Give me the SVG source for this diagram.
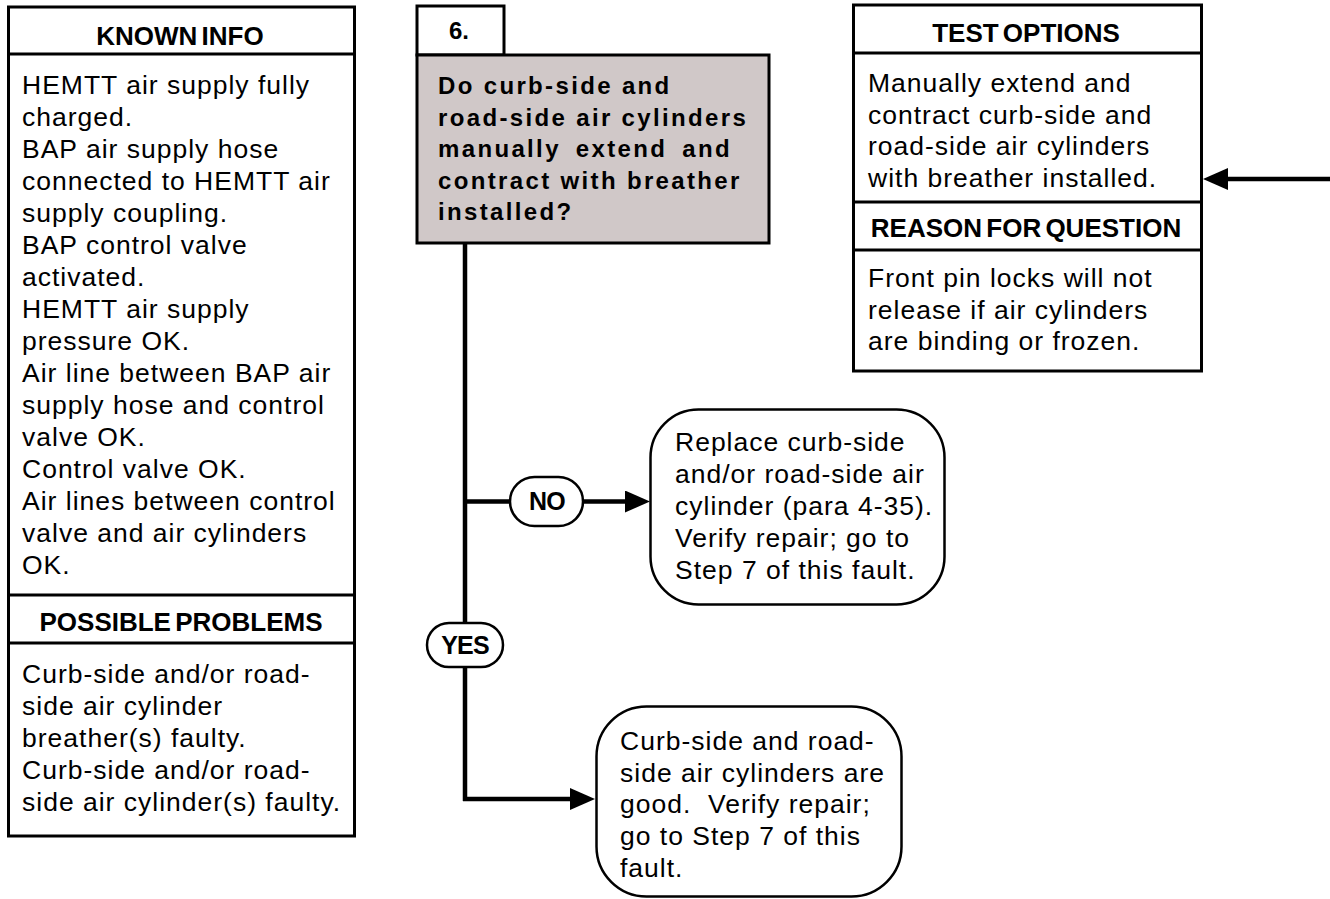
<svg xmlns="http://www.w3.org/2000/svg" width="1330" height="899" viewBox="0 0 1330 899">
<style>
.box{fill:#fff;stroke:#000;stroke-width:3}
.sep{stroke:#000;stroke-width:3}
.rbox{fill:#fff;stroke:#000;stroke-width:2.5}
.t{font-family:"Liberation Sans",Arial,Helvetica,sans-serif;fill:#000}
.hdr{font-weight:bold;font-size:26px;letter-spacing:0;word-spacing:-3px;text-anchor:middle}
.body{font-size:26.5px;letter-spacing:1px}
.q{font-weight:bold;font-size:24px;letter-spacing:2.35px}
.lbl{font-weight:bold;font-size:25px;letter-spacing:-0.8px;text-anchor:middle}
.conn{stroke:#000;stroke-width:4.5;fill:none}
</style>
<defs>
<marker id="arr" viewBox="0 0 25 22" refX="0" refY="11" markerWidth="25" markerHeight="22" markerUnits="userSpaceOnUse" orient="auto">
<path d="M0,0 L25,11 L0,22 Z" fill="#000"/>
</marker>
</defs>
<rect width="1330" height="899" fill="#fff"/>

<g id="connectors">
<line class="conn" x1="465" y1="243" x2="465" y2="801"/>
<line class="conn" x1="465" y1="501.5" x2="511" y2="501.5"/>
<line class="conn" x1="582" y1="501.5" x2="625" y2="501.5" marker-end="url(#arr)"/>
<line class="conn" x1="463" y1="799" x2="570" y2="799" marker-end="url(#arr)"/>
<line class="conn" x1="1330" y1="179" x2="1228" y2="179" marker-end="url(#arr)"/>
</g>

<g id="known-info">
<rect class="box" x="8.5" y="7" width="346" height="829"/>
<line class="sep" x1="8.5" y1="54" x2="354.5" y2="54"/>
<text class="t hdr" x="180" y="45">KNOWN INFO</text>
<text class="t body" x="22" y="94">
<tspan x="22" dy="0">HEMTT air supply fully</tspan>
<tspan x="22" dy="32">charged.</tspan>
<tspan x="22" dy="32">BAP air supply hose</tspan>
<tspan x="22" dy="32">connected to HEMTT air</tspan>
<tspan x="22" dy="32">supply coupling.</tspan>
<tspan x="22" dy="32">BAP control valve</tspan>
<tspan x="22" dy="32">activated.</tspan>
<tspan x="22" dy="32">HEMTT air supply</tspan>
<tspan x="22" dy="32">pressure OK.</tspan>
<tspan x="22" dy="32">Air line between BAP air</tspan>
<tspan x="22" dy="32">supply hose and control</tspan>
<tspan x="22" dy="32">valve OK.</tspan>
<tspan x="22" dy="32">Control valve OK.</tspan>
<tspan x="22" dy="32">Air lines between control</tspan>
<tspan x="22" dy="32">valve and air cylinders</tspan>
<tspan x="22" dy="32">OK.</tspan>
</text>
</g>

<g id="possible-problems">
<line class="sep" x1="8.5" y1="595" x2="354.5" y2="595"/>
<line class="sep" x1="8.5" y1="643" x2="354.5" y2="643"/>
<text class="t hdr" x="181" y="631">POSSIBLE PROBLEMS</text>
<text class="t body" x="22" y="683">
<tspan x="22" dy="0">Curb-side and/or road-</tspan>
<tspan x="22" dy="32">side air cylinder</tspan>
<tspan x="22" dy="32">breather(s) faulty.</tspan>
<tspan x="22" dy="32">Curb-side and/or road-</tspan>
<tspan x="22" dy="32">side air cylinder(s) faulty.</tspan>
</text>
</g>

<g id="step-number">
<rect class="box" x="417" y="6" width="87" height="49"/>
<text class="t hdr" x="459" y="39" style="font-size:24px">6.</text>
</g>

<g id="question">
<rect class="box" x="417" y="55" width="352" height="188" style="fill:#d0c8c8"/>
<text class="t q" x="438" y="94">
<tspan x="438" dy="0">Do curb-side and</tspan>
<tspan x="438" dy="31.5">road-side air cylinders</tspan>
<tspan x="438" dy="31.5" style="word-spacing:6px">manually extend and</tspan>
<tspan x="438" dy="31.5">contract with breather</tspan>
<tspan x="438" dy="31.5">installed?</tspan>
</text>
</g>

<g id="test-options">
<rect class="box" x="853.5" y="5" width="348" height="366"/>
<line class="sep" x1="853.5" y1="53" x2="1201.5" y2="53"/>
<text class="t hdr" x="1026" y="42">TEST OPTIONS</text>
<text class="t body" x="868" y="92">
<tspan x="868" dy="0">Manually extend and</tspan>
<tspan x="868" dy="31.7">contract curb-side and</tspan>
<tspan x="868" dy="31.7">road-side air cylinders</tspan>
<tspan x="868" dy="31.7">with breather installed.</tspan>
</text>
</g>

<g id="reason-for-question">
<line class="sep" x1="853.5" y1="202" x2="1201.5" y2="202"/>
<line class="sep" x1="853.5" y1="250" x2="1201.5" y2="250"/>
<text class="t hdr" x="1026" y="237">REASON FOR QUESTION</text>
<text class="t body" x="868" y="287">
<tspan x="868" dy="0">Front pin locks will not</tspan>
<tspan x="868" dy="31.7">release if air cylinders</tspan>
<tspan x="868" dy="31.7">are binding or frozen.</tspan>
</text>
</g>

<g id="label-no">
<rect class="rbox" x="510" y="477" width="73" height="49" rx="24.5"/>
<text class="t lbl" x="547" y="510">NO</text>
</g>

<g id="label-yes">
<rect class="rbox" x="427" y="623" width="76" height="44" rx="22"/>
<text class="t lbl" x="465" y="654">YES</text>
</g>

<g id="result-no">
<rect class="rbox" x="650.5" y="409.5" width="294" height="195" rx="48"/>
<text class="t body" x="675" y="451">
<tspan x="675" dy="0">Replace curb-side</tspan>
<tspan x="675" dy="32">and/or road-side air</tspan>
<tspan x="675" dy="32">cylinder (para 4-35).</tspan>
<tspan x="675" dy="32">Verify repair; go to</tspan>
<tspan x="675" dy="32">Step 7 of this fault.</tspan>
</text>
</g>

<g id="result-yes">
<rect class="rbox" x="596.5" y="706.5" width="305" height="190" rx="50"/>
<text class="t body" x="620" y="750" xml:space="preserve"><tspan x="620" dy="0">Curb-side and road-</tspan><tspan x="620" dy="31.7">side air cylinders are</tspan><tspan x="620" dy="31.7">good.  Verify repair;</tspan><tspan x="620" dy="31.7">go to Step 7 of this</tspan><tspan x="620" dy="31.7">fault.</tspan></text>
</g>
</svg>
